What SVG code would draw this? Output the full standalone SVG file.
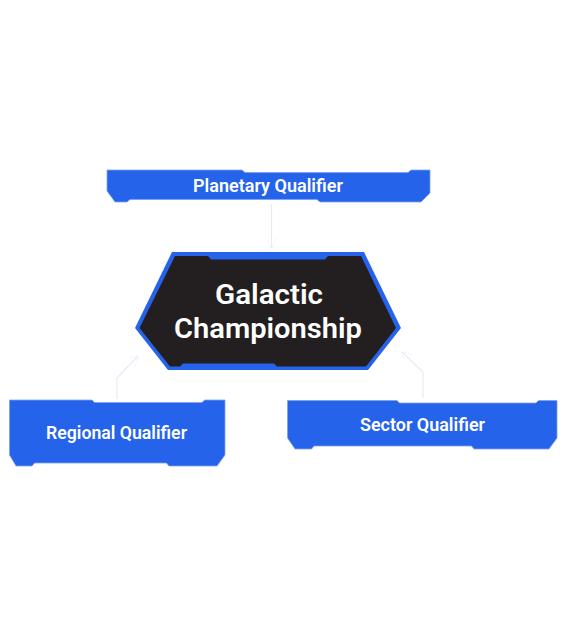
<svg xmlns="http://www.w3.org/2000/svg" width="567" height="643" viewBox="0 0 567 643">
<defs>
<style>
.q{fill:#2563eb;stroke:#7ea2f2;stroke-width:0.8}
.qt{font-family:Roboto,"Liberation Sans",sans-serif;font-weight:600;fill:#ffffff;font-size:18px}
.ht{font-family:Roboto,"Liberation Sans",sans-serif;font-weight:600;fill:#ffffff;font-size:28px}
.c{fill:none;stroke:#e6ebf6;stroke-width:1.2}
</style>
<marker id="ah" viewBox="0 0 10 10" refX="9" refY="5" markerWidth="10" markerHeight="10" orient="auto" markerUnits="userSpaceOnUse">
<path d="M0,0 L10,5 L0,10" fill="none" stroke="#e9edf7" stroke-width="1" stroke-dasharray="1.5 1.5"/>
</marker>
</defs>
<rect width="567" height="643" fill="#ffffff"/>
<g id="connectors">
<path class="c" d="M271.5,204 L271.5,248" marker-end="url(#ah)"/>
<path class="c" d="M117,399 L117,378 L138,356" marker-end="url(#ah)"/>
<path class="c" d="M423,398 L423,372 L402,352" marker-end="url(#ah)"/>
</g>
<g id="planetary">
<polygon class="q" points="107,170 242,170 245,172.5 408,172.5 411,170 430,170 430,193 421,202 320,202 317,199.5 130,199.5 127,202 115,202 107,191"/>
<text class="qt" x="193" y="191.5" textLength="150" lengthAdjust="spacingAndGlyphs">Planetary Qualifier</text>
</g>
<g id="galactic">
<polygon fill="#2563eb" points="172,252 364,252 401,328 368,370 168,370 135,328"/>
<polygon fill="#231f20" points="175,256 208,256 211,259.5 325,259.5 328,256 361,256 396,328 366,366.5 277,366.5 274,363.5 183,363.5 180,366.5 170,366.5 139.5,328"/>
<text class="ht" x="215" y="304" textLength="108" lengthAdjust="spacingAndGlyphs">Galactic</text>
<text class="ht" x="174" y="338" textLength="188" lengthAdjust="spacingAndGlyphs">Championship</text>
</g>
<g id="regional">
<polygon class="q" points="9.5,400 92,400 94.5,402.5 202,402.5 204.5,400 225,400 225,455 217,466 169,466 166.5,463 34.5,463 32,466 16,466 9.5,455"/>
<text class="qt" x="46" y="439" textLength="141" lengthAdjust="spacingAndGlyphs">Regional Qualifier</text>
</g>
<g id="sector">
<polygon class="q" points="287.5,400.5 397,400.5 399.5,403 536,403 538.5,400.5 557,400.5 557,438 549,449 474,449 471.5,446 314,446 311.5,449 295,449 287.5,438"/>
<text class="qt" x="360" y="431" textLength="125" lengthAdjust="spacingAndGlyphs">Sector Qualifier</text>
</g>
</svg>
